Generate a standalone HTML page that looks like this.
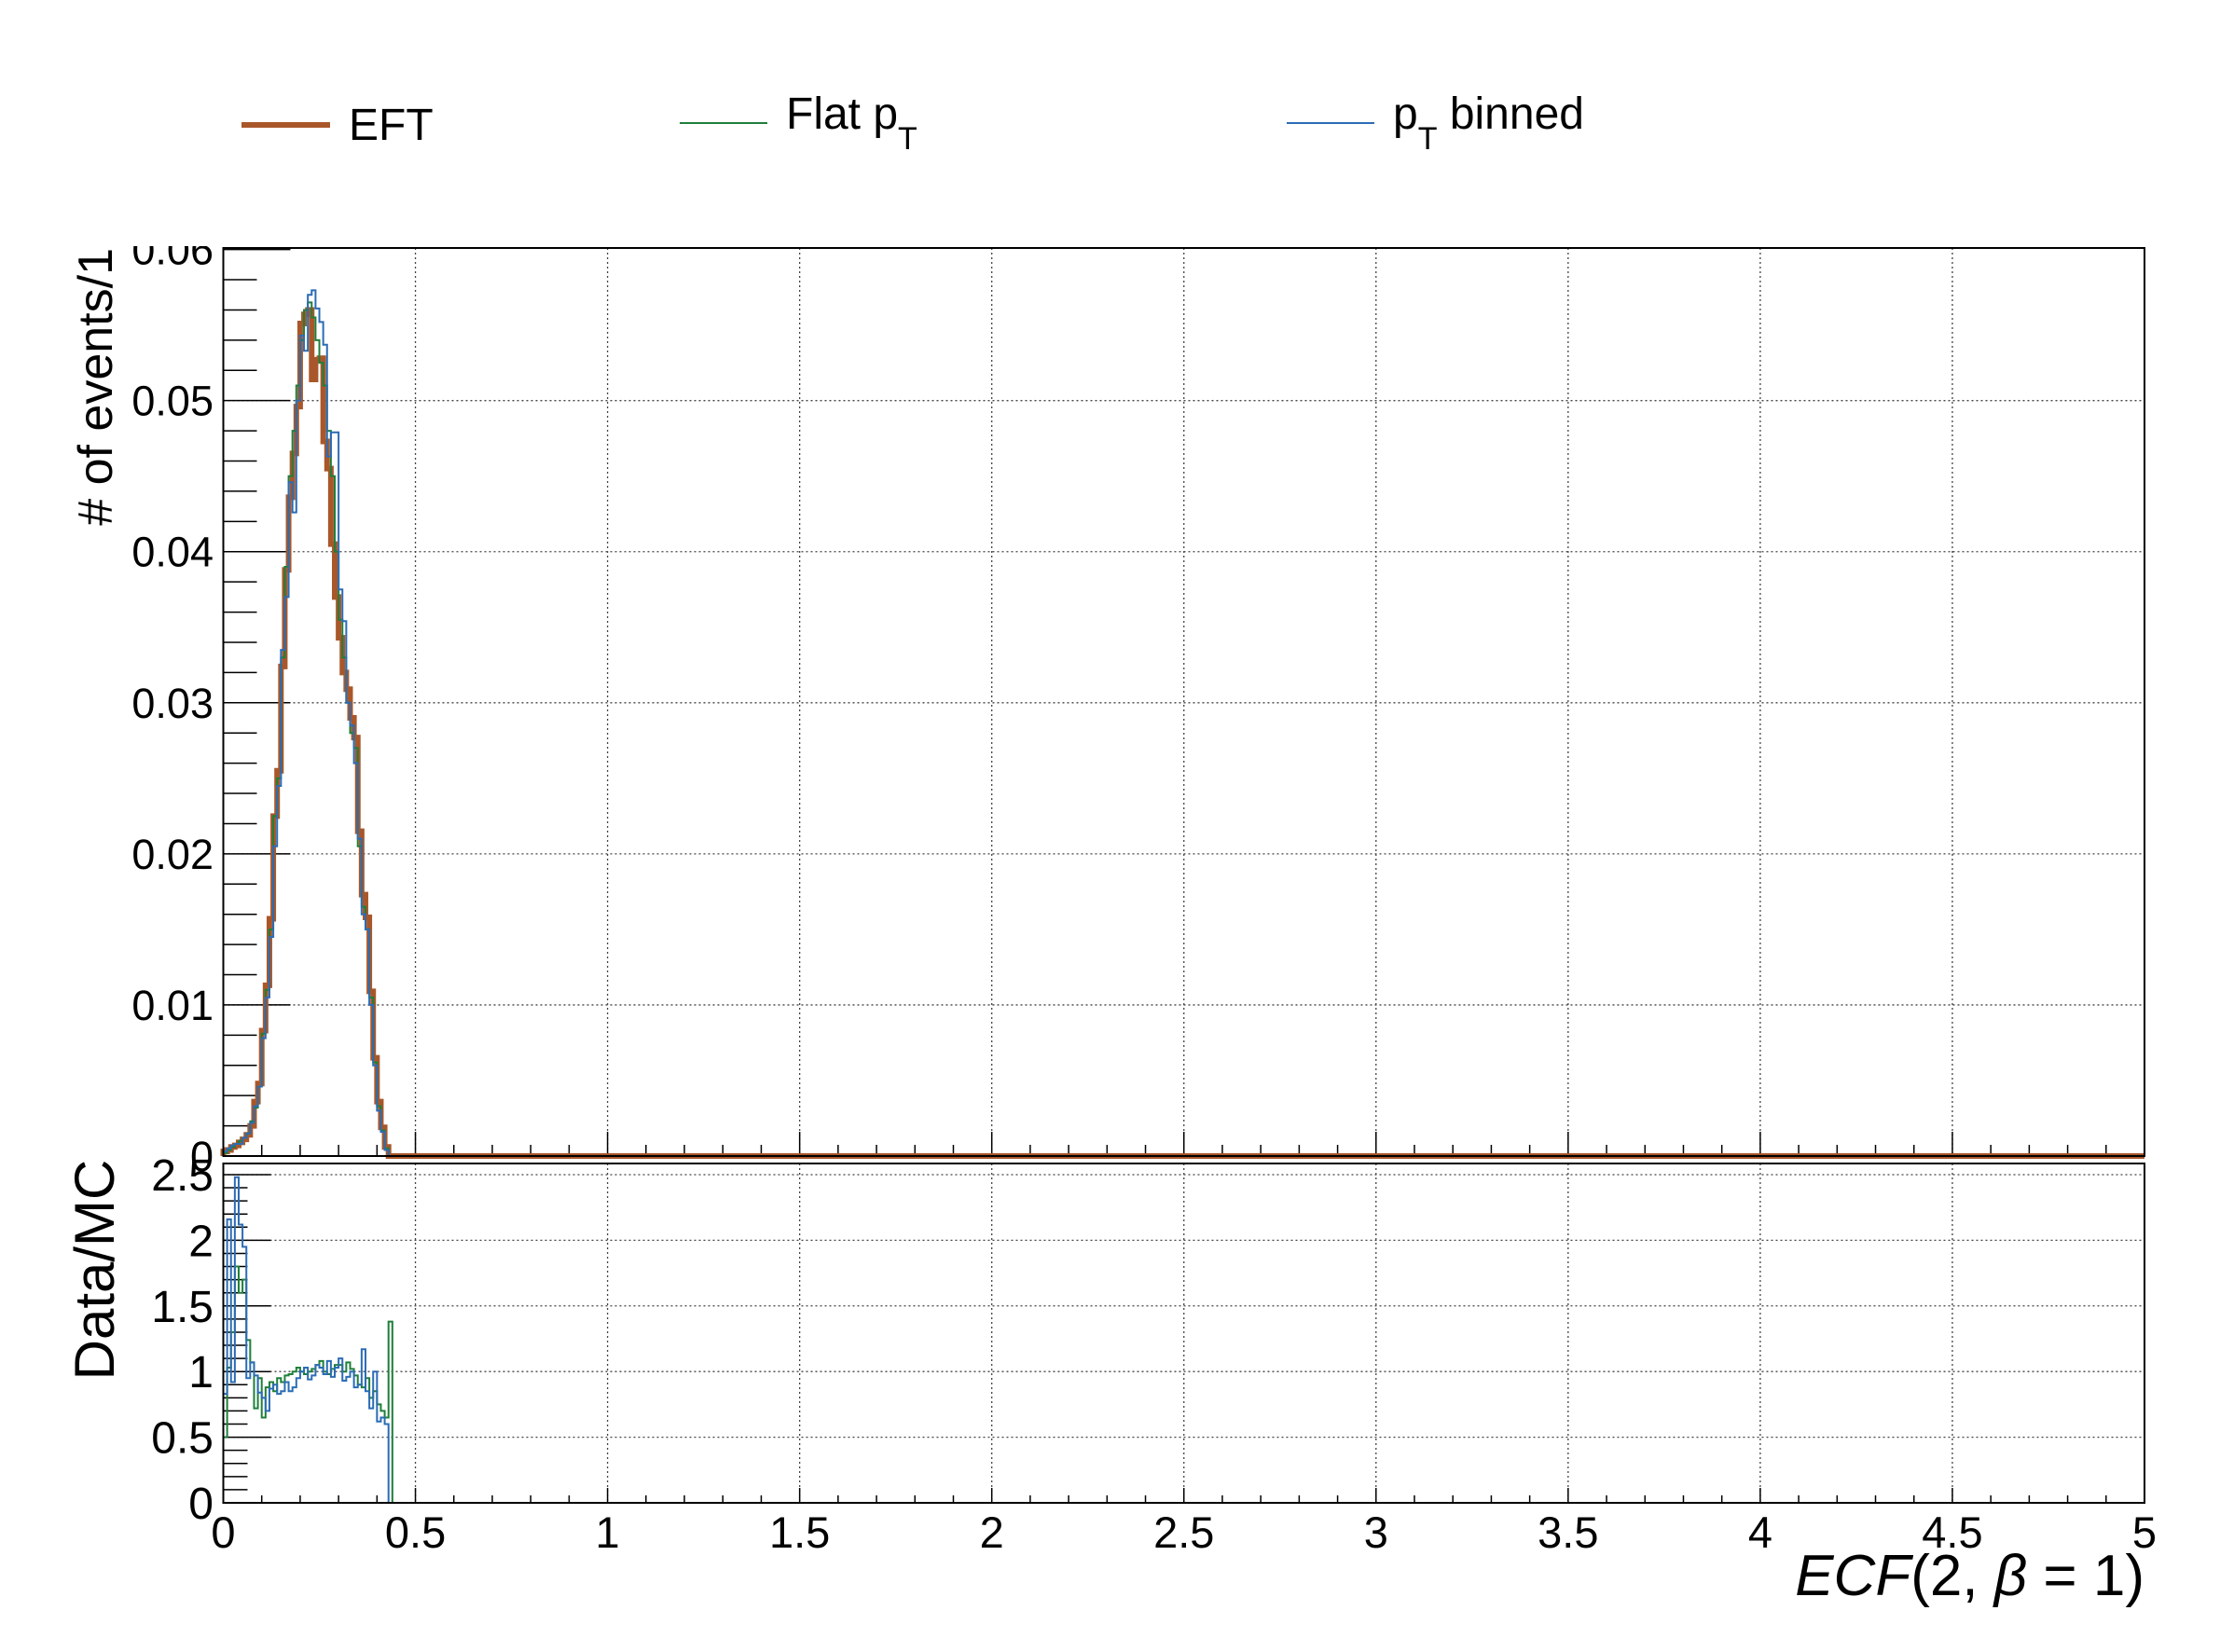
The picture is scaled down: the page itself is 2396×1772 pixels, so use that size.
<!DOCTYPE html>
<html><head><meta charset="utf-8"><style>
html,body{margin:0;padding:0;background:#fff}
svg{display:block}
text{font-family:"Liberation Sans",sans-serif;fill:#000}
</style></head><body>
<svg id="c" width="2396" height="1772" viewBox="0 0 2396 1772" xmlns="http://www.w3.org/2000/svg">
<defs><clipPath id="topclip"><rect x="0" y="264" width="2396" height="1500"/></clipPath></defs>
<g id="legend">
 <g><line x1="259" y1="134" x2="354" y2="134" stroke="#a9572a" stroke-width="6"/><text x="374" y="150" font-size="48">EFT</text></g>
 <g><line x1="729" y1="132" x2="823" y2="132" stroke="#1f7f3a" stroke-width="2"/><text x="843" y="138" font-size="48">Flat p<tspan font-size="34" dy="22">T</tspan></text></g>
 <g><line x1="1380" y1="132" x2="1474" y2="132" stroke="#2b6cb5" stroke-width="2"/><text x="1494" y="138" font-size="48">p<tspan font-size="34" dy="22">T</tspan><tspan dy="-22"> binned</tspan></text></g>
</g>
<g id="upper"></g>
<g id="lower"></g>
<text x="120" y="266" font-size="52" text-anchor="end" transform="rotate(-90 120 266)"># of events/1</text>
<text x="122" y="1362" font-size="60" text-anchor="middle" transform="rotate(-90 122 1362)">Data/MC</text>
<text x="2300" y="1711" font-size="62" text-anchor="end"><tspan font-style="italic">ECF</tspan>(2, <tspan font-style="italic">β</tspan> = 1)</text>
</svg>
<script>
const binWidth = 0.01;
const eftValues = [0.0003,0.0004,0.0006,0.0007,0.0009,0.0011,0.0014,0.002,0.0036,0.0048,0.0083,0.0113,0.0157,0.0225,0.0255,0.0324,0.0388,0.0436,0.0465,0.0496,0.0551,0.0557,0.056,0.0514,0.0527,0.0528,0.0473,0.0455,0.0405,0.037,0.0343,0.032,0.0309,0.029,0.0277,0.0215,0.0173,0.0158,0.0109,0.0065,0.0036,0.0019,0.0006,0];
const flatValues = [0.0002,0.0004,0.0006,0.0008,0.0010,0.0012,0.0015,0.0023,0.0032,0.0046,0.0081,0.0110,0.0150,0.0225,0.0250,0.0330,0.0390,0.0450,0.0480,0.0510,0.0540,0.0560,0.0565,0.0555,0.0540,0.0525,0.0510,0.0480,0.0450,0.0400,0.0355,0.0330,0.0300,0.0280,0.0270,0.0205,0.0165,0.0150,0.0105,0.0062,0.0033,0.0017,0.0005,0];
const binnedValues = [0.0003,0.0005,0.0007,0.0008,0.0008,0.0012,0.0015,0.0022,0.0033,0.0046,0.0078,0.0105,0.0145,0.0205,0.0245,0.0335,0.0370,0.0446,0.0426,0.0500,0.0543,0.0533,0.0570,0.0573,0.0561,0.0552,0.0537,0.0463,0.0479,0.0479,0.0375,0.0354,0.0300,0.0285,0.0260,0.0210,0.0160,0.0150,0.0100,0.0060,0.0030,0.0016,0.0004,0];
const binnedRatio = [0.83,2.16,0.92,2.48,2.12,1.95,0.95,1.07,0.97,0.84,0.80,0.70,0.87,0.90,0.83,0.85,0.92,0.85,0.88,0.95,1.00,1.03,0.94,0.97,1.05,1.03,0.98,1.08,0.96,1.03,1.10,0.93,0.96,1.00,0.88,0.90,1.17,0.85,0.72,1.00,0.62,0.65,0.60,0];
const flatRatio = [0.50,1.03,1.30,1.80,1.60,1.70,1.24,1.07,0.72,0.95,0.65,0.88,0.92,0.85,0.95,0.92,0.97,0.98,1.00,1.03,1.00,0.98,1.00,1.02,1.05,1.08,1.00,0.98,1.02,1.05,1.05,1.00,1.07,1.02,0.97,0.90,0.88,0.95,0.80,0.85,0.75,0.70,0.65,1.38];
const xTicks = [0,0.5,1,1.5,2,2.5,3,3.5,4,4.5,5];
const xTickLabels = ["0","0.5","1","1.5","2","2.5","3","3.5","4","4.5","5"];
const yTicks = [0,0.01,0.02,0.03,0.04,0.05,0.06];
const yTickLabels = ["0","0.01","0.02","0.03","0.04","0.05","0.06"];
const rTicks = [0,0.5,1,1.5,2,2.5];
const rTickLabels = ["0","0.5","1","1.5","2","2.5"];

const NS="http://www.w3.org/2000/svg";
const X0=239.5,X1=2300,XMAX=5;
const U={top:266,bot:1240,max:0.0601};
const L={top:1248,bot:1612,max:2.585};
const sx=v=>X0+(X1-X0)*v/XMAX;
const syU=v=>U.bot-(U.bot-U.top)*v/U.max;
const syL=v=>L.bot-(L.bot-L.top)*v/L.max;
function mk(tag,attrs,parent){const e=document.createElementNS(NS,tag);for(const k in attrs)e.setAttribute(k,attrs[k]);parent.appendChild(e);return e;}
const up=document.getElementById('upper'),lo=document.getElementById('lower');

function grid(g,top,bot,ys,sy){
  xTicks.forEach((t,i)=>{if(i>0&&i<xTicks.length-1){const l=mk('line',{x1:sx(t),x2:sx(t),y1:top,y2:bot,stroke:'#444','stroke-width':1.3,'stroke-dasharray':'2,3'},g);

}});
  ys.forEach(t=>{const y=sy(t);if(y>top+2&&y<bot-2){const l=mk('line',{x1:X0,x2:X1,y1:y,y2:y,stroke:'#444','stroke-width':1.3,'stroke-dasharray':'2,3'},g);

}});
}
function stepPath(vals,sy){
  const nb=Math.round(XMAX/binWidth);let d='M'+sx(0)+','+sy(0);
  for(let i=0;i<nb;i++){const v=i<vals.length?vals[i]:0;const y=sy(v);d+=' L'+sx(i*binWidth)+','+y+' L'+sx((i+1)*binWidth)+','+y;}
  return d;
}
function xTicksDraw(g,bot,maj,min){
  for(let i=0;i<=50;i++){const v=i*0.1,x=sx(v);const isMaj=(i%5===0);const l=mk('line',{x1:x,x2:x,y1:bot,y2:bot-(isMaj?maj:min),stroke:'#000','stroke-width':1.5},g);

}
}
grid(up,U.top,U.bot,yTicks,syU);
for(let i=0;i<=30;i++){const v=i*0.002;const y=syU(v);if(y<U.top-1)continue;const isMaj=i%5===0;const l=mk('line',{x1:X0,x2:X0+(isMaj?72:36),y1:y,y2:y,stroke:'#000','stroke-width':1.5},up);

}
xTicksDraw(up,U.bot,26,12);
const pe=mk('path',{d:stepPath(eftValues,syU),fill:'none',stroke:'#a9572a','stroke-width':6},up);


const pf=mk('path',{d:stepPath(flatValues,syU),fill:'none',stroke:'#1f7f3a','stroke-width':2},up);


const pb=mk('path',{d:stepPath(binnedValues,syU),fill:'none',stroke:'#2b6cb5','stroke-width':2},up);


const fu=mk('rect',{x:X0,y:U.top,width:X1-X0,height:U.bot-U.top,fill:'none',stroke:'#000','stroke-width':2},up);


const yl=mk('g',{'clip-path':'url(#topclip)'},up);
yTicks.forEach((t,i)=>{const tx=mk('text',{x:229,y:syU(t)+16,'font-size':45,'text-anchor':'end'},yl);tx.textContent=yTickLabels[i];

});
grid(lo,L.top,L.bot,rTicks,syL);
for(let i=0;i<=25;i++){const v=i*0.1;const y=syL(v);const isMaj=i%5===0;const l=mk('line',{x1:X0,x2:X0+(isMaj?51:26),y1:y,y2:y,stroke:'#000','stroke-width':1.5},lo);

}
xTicksDraw(lo,L.bot,16,8);
const rf=mk('path',{d:stepPath(flatRatio,syL),fill:'none',stroke:'#1f7f3a','stroke-width':2},lo);


const rb=mk('path',{d:stepPath(binnedRatio,syL),fill:'none',stroke:'#2b6cb5','stroke-width':2},lo);


const fl=mk('rect',{x:X0,y:L.top,width:X1-X0,height:L.bot-L.top,fill:'none',stroke:'#000','stroke-width':2},lo);


rTicks.forEach((t,i)=>{const tx=mk('text',{x:229,y:syL(t)+17,'font-size':48,'text-anchor':'end'},lo);tx.textContent=rTickLabels[i];

});
xTicks.forEach((t,i)=>{const tx=mk('text',{x:sx(t),y:1660,'font-size':47,'text-anchor':'middle'},lo);tx.textContent=xTickLabels[i];

});
</script>
</body></html>
